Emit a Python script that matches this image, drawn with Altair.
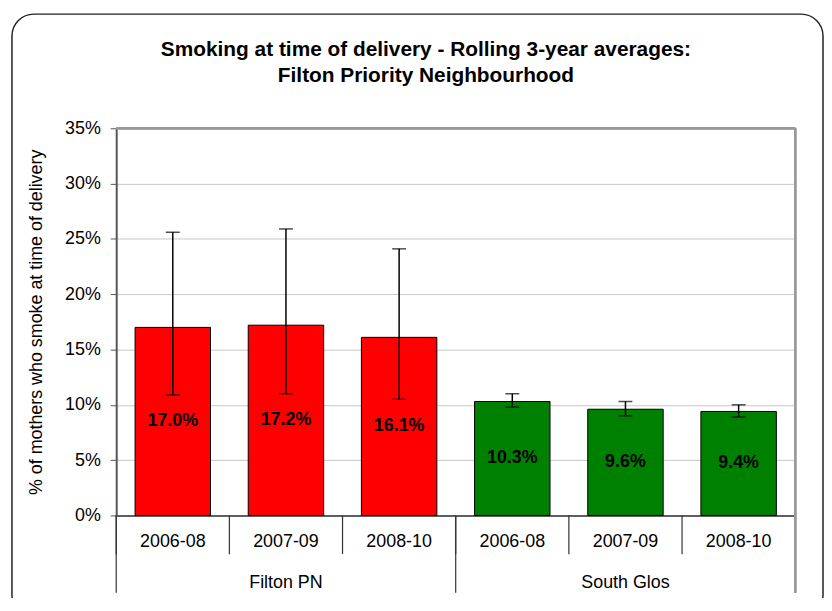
import altair as alt
import pandas as pd

# ---- data ----
TITLE_LINES = ["Smoking at time of delivery - Rolling 3-year averages:",
               "Filton Priority Neighbourhood"]
Y_TITLE = "% of mothers who smoke at time of delivery"
groups = ["Filton PN", "Filton PN", "Filton PN", "South Glos", "South Glos", "South Glos"]
periods = ["2006-08", "2007-09", "2008-10", "2006-08", "2007-09", "2008-10"]
values = [17.0, 17.2, 16.1, 10.3, 9.6, 9.4]
lower = [10.9, 11.0, 10.5, 9.8, 9.0, 8.9]
upper = [25.6, 25.9, 24.1, 11.0, 10.3, 10.0]
colours = ["#FF0000", "#FF0000", "#FF0000", "#008000", "#008000", "#008000"]
y_ticks = [0, 5, 10, 15, 20, 25, 30, 35]

FONT = "Liberation Sans"
W, H = 684, 390

df = pd.DataFrame({
    "group": groups, "period": periods, "value": values,
    "lower": lower, "upper": upper, "colour": colours,
})
df["key"] = df["group"] + "|" + df["period"]
keys = list(df["key"])

base = alt.Chart(df)

x_enc = alt.X(
    "key:N", sort=keys, title=None,
    scale=alt.Scale(paddingInner=0, paddingOuter=0),
    axis=alt.Axis(
        labelExpr="split(datum.label, '|')[1]", labelAngle=0,
        labelFont=FONT, labelFontSize=18, labelColor="black",
        labelPadding=17, ticks=False, domainColor="#333333", domainWidth=1.5,
        grid=False,
    ),
)
y_scale = alt.Scale(domain=[0, 35], nice=False)

bars = base.mark_bar(width={"band": 2 / 3}, stroke="black", strokeWidth=1).encode(
    x=x_enc,
    y=alt.Y(
        "value:Q", scale=y_scale, title=Y_TITLE,
        axis=alt.Axis(
            values=y_ticks, labelExpr="datum.value + '%'",
            labelFont=FONT, labelFontSize=18, labelColor="black", labelPadding=10,
            tickSize=6, tickColor="#555555", domainColor="#555555", domainWidth=2,
            gridColor="#c8c8c8", gridWidth=1,
            titleFont=FONT, titleFontSize=18, titleFontWeight="normal", titleColor="black",
            titleAngle=270, titleX=-80, titleY=H / 2, titleAlign="center",
            titleBaseline="middle",
        ),
    ),
    color=alt.Color("colour:N", scale=None),
)

err = base.mark_rule(color="black", strokeWidth=1.5).encode(
    x=alt.X("key:N", sort=keys), y=alt.Y("lower:Q", scale=y_scale), y2="upper:Q"
)
cap_hi = base.mark_tick(color="black", thickness=1.5, size=14).encode(
    x=alt.X("key:N", sort=keys), y=alt.Y("upper:Q", scale=y_scale)
)
cap_lo = base.mark_tick(color="black", thickness=1.5, size=14).encode(
    x=alt.X("key:N", sort=keys), y=alt.Y("lower:Q", scale=y_scale)
)

labels = base.transform_calculate(
    mid="datum.value / 2", lab="format(datum.value, '.1f') + '%'"
).mark_text(font=FONT, fontSize=18, fontWeight="bold", color="black",
            baseline="middle").encode(
    x=alt.X("key:N", sort=keys), y=alt.Y("mid:Q", scale=y_scale), text="lab:N"
)

# separators below the axis
year_sep = base.mark_rule(color="#333333", strokeWidth=1.2).encode(
    x=alt.X("key:N", sort=keys, bandPosition=0),
    y=alt.value(H), y2=alt.value(H + 39),
)
group_sep = base.transform_filter("datum.period == '2006-08'").mark_rule(
    color="#333333", strokeWidth=1.2
).encode(
    x=alt.X("key:N", sort=keys, bandPosition=0),
    y=alt.value(H), y2=alt.value(H + 78),
)
group_lab = base.transform_filter("datum.period == '2007-09'").mark_text(
    font=FONT, fontSize=18, color="black", baseline="middle"
).encode(
    x=alt.X("key:N", sort=keys), y=alt.value(H + 68), text="group:N"
)

right_border = base.mark_rule(color="#999999", strokeWidth=2).encode(
    x=alt.value(W), y=alt.value(0), y2=alt.value(H + 78)
)
top_border = base.mark_rule(color="#999999", strokeWidth=2).encode(
    x=alt.value(0), x2=alt.value(W), y=alt.value(0)
)

frame = alt.Chart(pd.DataFrame({"a": [0]})).mark_rect(
    fill=None, stroke="#222222", strokeWidth=1.5, cornerRadius=22
).encode(
    x=alt.value(-105), x2=alt.value(712), y=alt.value(-115), y2=alt.value(492)
)

t1 = alt.Chart(pd.DataFrame({"t": [TITLE_LINES[0]]})).mark_text(
    font=FONT, fontSize=21, fontWeight="bold", color="black", baseline="alphabetic"
).encode(x=alt.value(312), y=alt.value(-73), text="t:N")
t2 = alt.Chart(pd.DataFrame({"t": [TITLE_LINES[1]]})).mark_text(
    font=FONT, fontSize=21, fontWeight="bold", color="black", baseline="alphabetic"
).encode(x=alt.value(312), y=alt.value(-47), text="t:N")

chart = alt.layer(
    frame, bars, err, cap_hi, cap_lo, labels, year_sep, group_sep, group_lab,
    right_border, top_border, t1, t2
).properties(
    width=W, height=H,
    autosize=alt.AutoSizeParams(type="none"),
    padding={"left": 109, "top": 119, "right": 29, "bottom": 81},
    background="white",
).configure_view(stroke=None)

chart.save("out.html", embed_options={"renderer": "svg", "actions": False})
